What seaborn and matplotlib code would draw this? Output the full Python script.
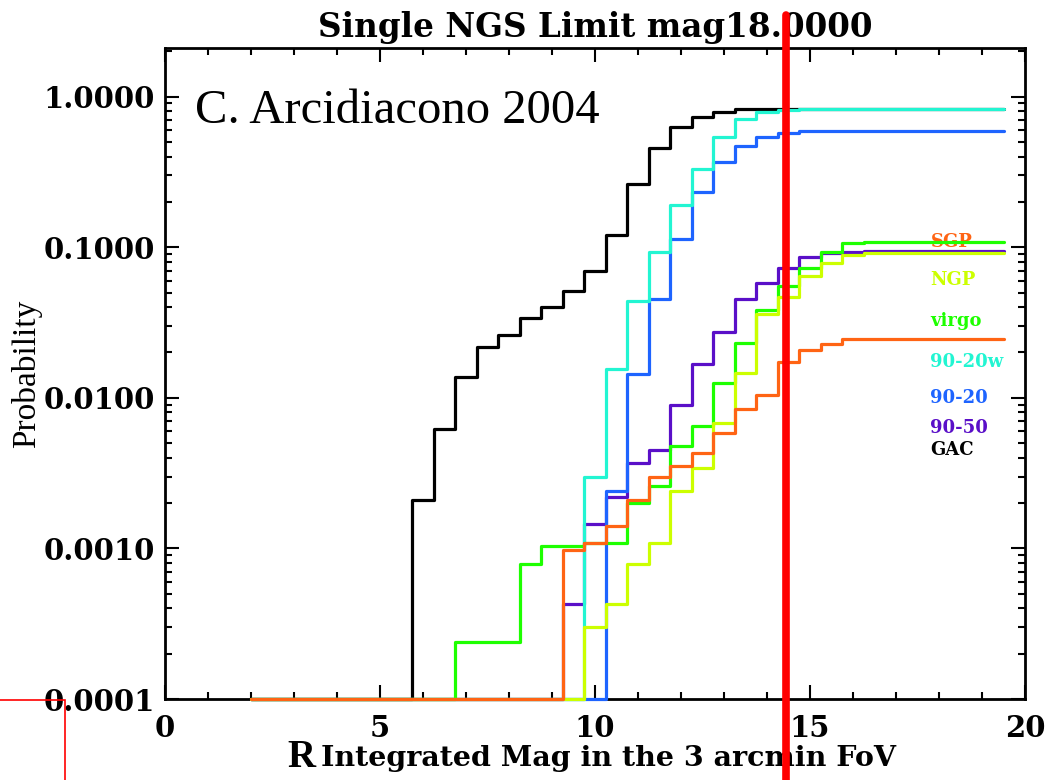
import numpy as np
import pandas as pd
import matplotlib
matplotlib.use("Agg")
import matplotlib.pyplot as plt
import matplotlib.ticker as mticker
from matplotlib.patches import Rectangle
import seaborn as sns

# magnitude grid (bin centres, histogram-style steps)
mag = np.arange(2.0, 20.0, 0.5)

# cumulative probability per field (0 = below plot range)
gac = [0, 0, 0, 0, 0, 0, 0, 0,
       0.0021, 0.0062, 0.0138, 0.0216, 0.0261, 0.0337, 0.040, 0.051,
       0.070, 0.120, 0.263, 0.454, 0.625, 0.736, 0.787, 0.824,
       0.826, 0.826, 0.826, 0.826, 0.826, 0.826, 0.826, 0.826, 0.826, 0.826, 0.826, 0.826]
p90_50 = [0, 0, 0, 0, 0, 0, 0, 0, 0, 0, 0, 0, 0, 0, 0,
          0.00043, 0.00145, 0.0022, 0.0037, 0.0045, 0.0089, 0.0167, 0.0275, 0.045,
          0.058, 0.073, 0.086, 0.091, 0.093,
          0.095, 0.095, 0.095, 0.095, 0.095, 0.095, 0.095]
p90_20 = [0, 0, 0, 0, 0, 0, 0, 0, 0, 0, 0, 0, 0, 0, 0, 0, 0,
          0.0024, 0.0144, 0.045, 0.114, 0.234, 0.37, 0.47, 0.54, 0.57, 0.59,
          0.595, 0.595, 0.595, 0.595, 0.595, 0.595, 0.595, 0.595, 0.595]
p90_20w = [0, 0, 0, 0, 0, 0, 0, 0, 0, 0, 0, 0, 0, 0, 0, 0,
           0.0030, 0.0155, 0.044, 0.093, 0.19, 0.33, 0.54, 0.71, 0.787, 0.815,
           0.826, 0.826, 0.826, 0.826, 0.826, 0.826, 0.826, 0.826, 0.826, 0.826]
virgo = [0, 0, 0, 0, 0, 0, 0, 0, 0, 0,
         0.00024, 0.00024, 0.00024, 0.00079, 0.00104, 0.00104, 0.00108, 0.00108,
         0.0020, 0.0026, 0.0048, 0.0065, 0.0126, 0.023, 0.038, 0.055, 0.0725,
         0.093, 0.106,
         0.109, 0.109, 0.109, 0.109, 0.109, 0.109, 0.109]
ngp = [0, 0, 0, 0, 0, 0, 0, 0, 0, 0, 0, 0, 0, 0, 0, 0,
       0.0003, 0.00043, 0.00079, 0.00108, 0.0024, 0.0034, 0.0068, 0.0147,
       0.036, 0.047, 0.064, 0.079, 0.089,
       0.092, 0.092, 0.092, 0.092, 0.092, 0.092, 0.092]
sgp = [0, 0, 0, 0, 0, 0, 0, 0, 0, 0, 0, 0, 0, 0, 0,
       0.00097, 0.00108, 0.0014, 0.0021, 0.0030, 0.0035, 0.0043, 0.0058, 0.0084,
       0.0105, 0.0174, 0.0207, 0.0226,
       0.0245, 0.0245, 0.0245, 0.0245, 0.0245, 0.0245, 0.0245, 0.0245]

# drawing order (last one on top)
fields = ["GAC", "90-50", "90-20", "90-20w", "virgo", "NGP", "SGP"]
series = [gac, p90_50, p90_20, p90_20w, virgo, ngp, sgp]
colors = {"GAC": "#000000", "90-50": "#5a0fc8", "90-20": "#1e64ff",
          "90-20w": "#22f5d2", "virgo": "#1eff00", "NGP": "#ccff00",
          "SGP": "#ff6414"}
# legend text order, top to bottom
label_order = ["SGP", "NGP", "virgo", "90-20w", "90-20", "90-50", "GAC"]
label_y = [0.702, 0.644, 0.581, 0.518, 0.462, 0.416, 0.382]

mag_limit = 14.43

df = pd.concat([pd.DataFrame({"mag": mag, "prob": vals, "field": name})
                for name, vals in zip(fields, series)], ignore_index=True)
# zeros get drawn along the bottom of the log axis, like IDL does
df["prob_plot"] = df["prob"].clip(lower=1e-4)

sns.set_style("ticks")
plt.rcParams["font.family"] = ["DejaVu Serif"]
plt.rcParams["font.weight"] = "bold"
plt.rcParams["text.color"] = "black"
plt.rcParams["axes.labelcolor"] = "black"
plt.rcParams["xtick.color"] = "black"
plt.rcParams["ytick.color"] = "black"

fig = plt.figure(figsize=(10.47, 7.8), dpi=100)
ax = fig.add_axes([0.1576, 0.1038, 0.8214, 0.8346])
ax.set_yscale("log")

sns.lineplot(data=df, x="mag", y="prob_plot", hue="field", hue_order=fields,
             palette=colors, drawstyle="steps-mid", linewidth=2.3,
             legend=False, errorbar=None, ax=ax, zorder=3, clip_on=False)

ax.set_xlim(0, 20)
ax.set_ylim(1e-4, 2.1)

ax.xaxis.set_major_locator(mticker.MultipleLocator(5))
ax.xaxis.set_minor_locator(mticker.MultipleLocator(1))
ax.yaxis.set_major_locator(mticker.FixedLocator([1e-4, 1e-3, 1e-2, 1e-1, 1.0]))
ax.yaxis.set_major_formatter(mticker.FormatStrFormatter("%.4f"))
ax.yaxis.set_minor_locator(mticker.LogLocator(base=10, subs=np.arange(2, 10)))
ax.yaxis.set_minor_formatter(mticker.NullFormatter())

ax.tick_params(which="both", direction="in", top=True, right=True,
               width=1.5, color="black", labelcolor="black")
ax.tick_params(which="major", length=10, labelsize=21)
ax.tick_params(which="minor", length=5)
ax.tick_params(axis="x", which="major", pad=11)
ax.tick_params(axis="y", which="major", pad=7)
for sp in ax.spines.values():
    sp.set_linewidth(2)
    sp.set_color("black")

ax.set_title("Single NGS Limit mag18.0000", fontsize=23.5, fontweight="bold",
             pad=8, color="black")
ax.set_ylabel("Probability", family="Liberation Serif", fontweight="normal",
              fontsize=24)
ax.yaxis.set_label_coords(-0.143, 0.5)
ax.set_xlabel("Integrated Mag in the 3 arcmin FoV", fontsize=20.5,
              fontweight="bold")
ax.xaxis.set_label_coords(0.516, -0.071)
ax.text(0.142, -0.1045, "R", transform=ax.transAxes, ha="left", va="baseline",
        family="Liberation Serif", fontweight="bold", fontsize=28)

ax.text(0.035, 0.885, "C. Arcidiacono 2004", transform=ax.transAxes,
        ha="left", va="baseline", family="Liberation Serif",
        fontweight="normal", fontsize=35)

for name, yy in zip(label_order, label_y):
    ax.text(0.890, yy, name, transform=ax.transAxes, ha="left", va="center",
            color=colors[name], fontsize=13, fontweight="bold", zorder=1)

# limiting magnitude marker
ax.axvline(mag_limit, ymin=-0.13, ymax=1.051, color="#ff0000", lw=5.5,
           clip_on=False, zorder=10)

# small red box at the lower left corner of the page
fig.add_artist(Rectangle((-0.01, -0.01), 0.0721, 0.1126, transform=fig.transFigure,
                         fill=False, edgecolor="#ff0000", lw=1.2))

fig.savefig("out.png", dpi=100)
